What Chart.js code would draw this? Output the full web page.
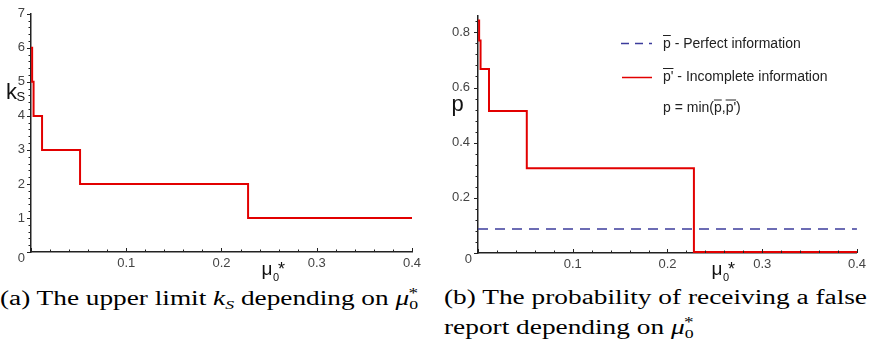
<!DOCTYPE html>
<html lang="en">
<head>
<meta charset="utf-8" />
<script src="https://cdn.jsdelivr.net/npm/chart.js@4.4.1/dist/chart.umd.min.js"></script>
<style>
  body { margin: 0; background: #fff; width: 870px; height: 348px; position: relative; overflow: hidden; }
  #leftChart { position: absolute; left: 0; top: 0; }
  #rightChart { position: absolute; left: 430px; top: 0; }
  .cap { position: absolute; font-family: "Liberation Serif", serif; font-size: 20px; line-height: 22px; white-space: nowrap; color: #000; transform-origin: 0 0; }
  .cap i { font-style: italic; }
  .cap .lo { font-size: 13px; position: relative; top: 4px; }
  .cap .hi { font-size: 14px; position: relative; top: -7px; margin-left: -7px; }
</style>
</head>
<body>
<canvas id="leftChart" width="430" height="285"></canvas>
<canvas id="rightChart" width="440" height="285"></canvas>

<div class="cap" id="capA" style="left:0px; top:287px;">(a) The upper limit <i>k</i><span class="lo"><i>S</i></span> depending on <i>μ</i><span class="lo">0</span><span class="hi">*</span></div>
<div class="cap" id="capB1" style="left:444px; top:286px;">(b) The probability of receiving a false</div>
<div class="cap" id="capB2" style="left:444px; top:316px;">report depending on <i>μ</i><span class="lo">0</span><span class="hi">*</span></div>

<script>
// valori
const muBreaks = [0, 0.0012, 0.0027, 0.0116, 0.0515, 0.2279, 0.4];
const kS = [6, 5, 4, 3, 2, 1, 1];
const pIncomplete = [0.843, 0.77, 0.667, 0.515, 0.307, 0.004, 0.004];
const perfectX = [0, 0.4];
const pPerfect = [0.087, 0.087];

const xTicks = [0, 0.1, 0.2, 0.3, 0.4];
const kTicks = [0, 1, 2, 3, 4, 5, 6, 7];
const pTicks = [0, 0.2, 0.4, 0.6, 0.8];

const RED = 'rgb(226,0,0)';
const BLUE = '#3c3c9c';
const tickFont = { family: 'Liberation Sans', size: 13 };

function pts(xs, ys) {
    return xs.map((x, i) => ({ x: x, y: ys[i] }));
}

// tacche minori e maggiori disegnate con le scale di Chart.js
const tickMarks = {
    id: 'tickMarks',
    afterDraw(chart, args, opts) {
        const ctx = chart.ctx;
        const xs = chart.scales.x, ys = chart.scales.y;
        const area = chart.chartArea;
        ctx.save();
        ctx.strokeStyle = '#222';
        ctx.lineWidth = 1;
        const eps = 1e-9;
        for (let v = xs.min; v <= xs.max + eps; v += opts.xMinor) {
            const px = Math.round(xs.getPixelForValue(v)) + 0.5;
            const major = xTicks.some(t => Math.abs(t - v) < 1e-6);
            ctx.beginPath();
            ctx.moveTo(px, area.bottom);
            ctx.lineTo(px, area.bottom - (major ? 4 : 2.5));
            ctx.stroke();
        }
        for (let v = ys.min; v <= ys.max + eps; v += opts.yMinor) {
            const py = Math.round(ys.getPixelForValue(v)) + 0.5;
            const major = opts.yMajor.some(t => Math.abs(t - v) < 1e-6);
            ctx.beginPath();
            ctx.moveTo(area.left, py);
            ctx.lineTo(area.left - (major ? 4 : 2.5), py);
            ctx.stroke();
        }
        // lo zero dell'origine sta un po' piu' in basso
        ctx.fillStyle = '#444';
        ctx.font = '13px "Liberation Sans"';
        ctx.textAlign = 'right';
        ctx.textBaseline = 'alphabetic';
        ctx.fillText('0', area.left - opts.zeroGap, ys.getPixelForValue(0) + 10);
        ctx.restore();
    }
};

// titoli degli assi e legenda
function drawMu(ctx, x) {
    ctx.fillStyle = '#111';
    ctx.font = '19px "Liberation Sans"';
    ctx.fillText('μ', x, 275);
    ctx.font = '11px "Liberation Sans"';
    ctx.fillText('0', x + 11.5, 281);
    ctx.font = '18px "Liberation Sans"';
    ctx.fillText('*', x + 16.5, 275);
}

function overText(ctx, txt, x, y, over) {
    ctx.fillText(txt, x, y);
    const w = ctx.measureText(txt).width;
    if (over) {
        ctx.beginPath();
        ctx.moveTo(x, y - 12);
        ctx.lineTo(x + w, y - 12);
        ctx.stroke();
    }
    return x + w;
}

const leftLabels = {
    id: 'leftLabels',
    afterDraw(chart) {
        const ctx = chart.ctx;
        ctx.save();
        ctx.textBaseline = 'alphabetic';
        ctx.fillStyle = '#111';
        ctx.font = '22px "Liberation Sans"';
        ctx.fillText('k', 6, 99);
        ctx.font = '13px "Liberation Sans"';
        ctx.fillText('S', 16.5, 101);
        drawMu(ctx, 261.5);
        ctx.restore();
    }
};

const rightLabels = {
    id: 'rightLabels',
    afterDraw(chart) {
        const ctx = chart.ctx;
        ctx.save();
        ctx.textBaseline = 'alphabetic';
        ctx.fillStyle = '#111';
        ctx.font = '22px "Liberation Sans"';
        ctx.fillText('p', 21.5, 111);
        drawMu(ctx, 281.5);

        // legenda
        ctx.lineWidth = 1.5;
        ctx.strokeStyle = BLUE;
        ctx.setLineDash([8, 6]);
        ctx.beginPath(); ctx.moveTo(191, 43.5); ctx.lineTo(222, 43.5); ctx.stroke();
        ctx.setLineDash([]);
        ctx.strokeStyle = RED;
        ctx.beginPath(); ctx.moveTo(192, 77.5); ctx.lineTo(222, 77.5); ctx.stroke();

        ctx.font = '14px "Liberation Sans"';
        ctx.fillStyle = '#222';
        ctx.strokeStyle = '#222';
        ctx.lineWidth = 1;
        let x = overText(ctx, 'p', 233, 47.5, true);
        overText(ctx, ' - Perfect information', x, 47.5, false);
        x = overText(ctx, "p'", 233, 80.5, true);
        overText(ctx, ' - Incomplete information', x, 80.5, false);
        x = overText(ctx, 'p = min(', 233, 112, false);
        x = overText(ctx, 'p', x, 112, true);
        x = overText(ctx, ',', x, 112, false);
        x = overText(ctx, "p'", x, 112, true);
        overText(ctx, ')', x, 112, false);
        ctx.restore();
    }
};

function xScale(h) {
    return {
        type: 'linear', min: 0, max: 0.4,
        afterBuildTicks: s => { s.ticks = xTicks.map(v => ({ value: v })); },
        afterFit: s => { s.height = h; },
        grid: { display: false, drawTicks: false },
        border: { display: true, color: '#222', width: 1.5 },
        ticks: {
            font: tickFont, color: '#444', padding: 4, maxRotation: 0, autoSkip: false,
            callback: v => v === 0 ? '' : v.toFixed(1)
        }
    };
}

function yScale(max, ticks, w, pad, fmt) {
    return {
        type: 'linear', min: 0, max: max,
        afterBuildTicks: s => { s.ticks = ticks.map(v => ({ value: v })); },
        afterFit: s => { s.width = w; },
        grid: { display: false, drawTicks: false },
        border: { display: true, color: '#222', width: 1.5 },
        ticks: { font: tickFont, color: '#444', padding: pad, autoSkip: false, callback: fmt }
    };
}

Chart.defaults.animation = false;

new Chart(document.getElementById('leftChart'), {
    type: 'line',
    data: {
        datasets: [{
            data: pts(muBreaks, kS),
            stepped: 'before',
            borderColor: RED, borderWidth: 2, pointRadius: 0, fill: false, clip: 4
        }]
    },
    options: {
        responsive: false,
        devicePixelRatio: 1,
        layout: { padding: { top: 7, right: 18, left: 0, bottom: 0 } },
        plugins: {
            legend: { display: false }, tooltip: { enabled: false },
            tickMarks: { xMinor: 0.02, yMinor: 0.2, yMajor: kTicks, zeroGap: 6 }
        },
        scales: {
            x: xScale(33),
            y: yScale(7, kTicks, 31, 6, v => v === 0 ? '' : String(v))
        }
    },
    plugins: [tickMarks, leftLabels]
});

new Chart(document.getElementById('rightChart'), {
    type: 'line',
    data: {
        datasets: [{
            data: pts(perfectX, pPerfect),
            borderColor: BLUE, borderWidth: 1.5, borderDash: [10, 7], pointRadius: 0, fill: false
        }, {
            data: pts(muBreaks, pIncomplete),
            stepped: 'before',
            borderColor: RED, borderWidth: 2, pointRadius: 0, fill: false, clip: 4
        }]
    },
    options: {
        responsive: false,
        devicePixelRatio: 1,
        layout: { padding: { top: 11, right: 12, left: 0, bottom: 0 } },
        plugins: {
            legend: { display: false }, tooltip: { enabled: false },
            tickMarks: { xMinor: 0.02, yMinor: 0.04, yMajor: pTicks, zeroGap: 6 }
        },
        scales: {
            x: xScale(32),
            y: yScale(0.86, pTicks, 48, 8, v => v === 0 ? '' : v.toFixed(1))
        }
    },
    plugins: [tickMarks, rightLabels]
});

// allargo le didascalie fino alla larghezza dell'originale
function fit(el, target) {
    const w = el.getBoundingClientRect().width;
    const k = target / w;
    el.style.transform = 'scaleX(' + k + ')';
    return k;
}
fit(document.getElementById('capA'), 418);
const kB = fit(document.getElementById('capB1'), 423);
document.getElementById('capB2').style.transform = 'scaleX(' + kB + ')';
</script>
</body>
</html>
